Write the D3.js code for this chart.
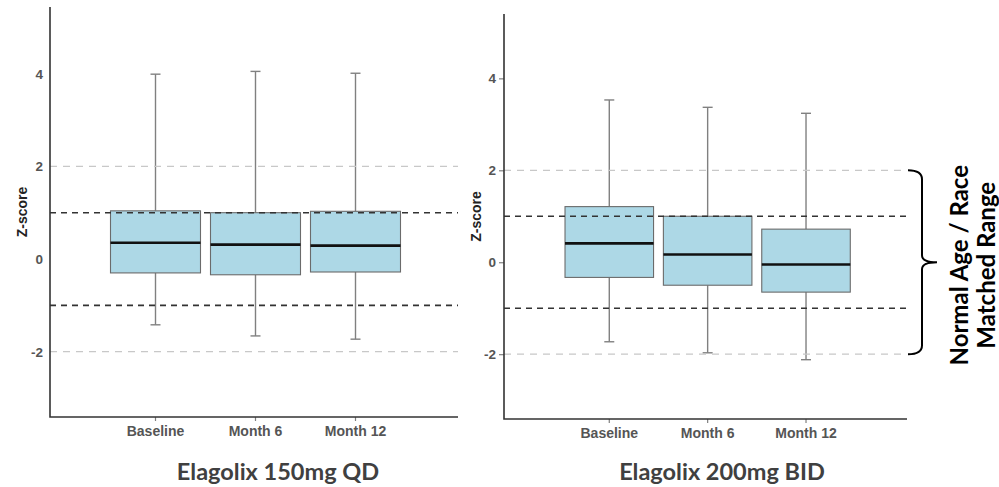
<!DOCTYPE html>
<html>
<head>
<meta charset="utf-8">
<script src="https://cdn.jsdelivr.net/npm/d3@7/dist/d3.min.js"></script>
<style>
  html, body { margin: 0; padding: 0; background: #fff; }
  svg { display: block; }
</style>
</head>
<body>
<svg id="chart" width="999" height="487"></svg>
<script>
// Visit categories shared by both dose groups
const categories = ["Baseline", "Month 6", "Month 12"];

// Elagolix 150mg QD – box-plot summaries (Z-score)
const qdWhiskerLow  = [-1.42, -1.66, -1.73];
const qdQ1          = [-0.30, -0.34, -0.28];
const qdMedian      = [ 0.35,  0.31,  0.29];
const qdQ3          = [ 1.04,  1.00,  1.03];
const qdWhiskerHigh = [ 3.99,  4.05,  4.01];

// Elagolix 200mg BID – box-plot summaries (Z-score)
const bidWhiskerLow  = [-1.73, -1.97, -2.12];
const bidQ1          = [-0.33, -0.50, -0.65];
const bidMedian      = [ 0.41,  0.17, -0.05];
const bidQ3          = [ 1.21,  1.00,  0.72];
const bidWhiskerHigh = [ 3.53,  3.37,  3.24];

// Axis ticks and reference lines
const yTicks = [-2, 0, 2, 4];
const innerRefLines = [-1, 1];   // dark dashed
const outerRefLines = [-2, 2];   // light dashed (normal range)

const yDomainQD  = [-3.41, 5.44];
const yDomainBID = [-3.41, 5.40];

const svg = d3.select("#chart");
const tickFont = "'Liberation Sans', Arial, sans-serif";
const titleFont = "Lato, 'Open Sans', sans-serif";

function rows(lo, q1, med, q3, hi) {
  return categories.map((c, i) => ({ cat: c, lo: lo[i], q1: q1[i], med: med[i], q3: q3[i], hi: hi[i] }));
}

function drawPanel(opt) {
  const g = svg.append("g");
  const y = d3.scaleLinear().domain(opt.yDomain).range([opt.bottom, opt.top]);
  const x = d3.scaleBand().domain(categories).range(opt.bandRange)
    .paddingInner(0.1).paddingOuter(0.05);
  const bw = x.bandwidth();
  const cap = 10;

  // boxes
  const box = g.selectAll("g.box").data(opt.data).join("g").attr("class", "box");
  box.append("line")
    .attr("x1", d => x(d.cat) + bw / 2).attr("x2", d => x(d.cat) + bw / 2)
    .attr("y1", d => y(d.q3)).attr("y2", d => y(d.hi))
    .attr("stroke", "#808080").attr("stroke-width", 1.4);
  box.append("line")
    .attr("x1", d => x(d.cat) + bw / 2).attr("x2", d => x(d.cat) + bw / 2)
    .attr("y1", d => y(d.q1)).attr("y2", d => y(d.lo))
    .attr("stroke", "#808080").attr("stroke-width", 1.4);
  box.append("line")
    .attr("x1", d => x(d.cat) + bw / 2 - cap / 2).attr("x2", d => x(d.cat) + bw / 2 + cap / 2)
    .attr("y1", d => y(d.hi)).attr("y2", d => y(d.hi))
    .attr("stroke", "#808080").attr("stroke-width", 1.4);
  box.append("line")
    .attr("x1", d => x(d.cat) + bw / 2 - cap / 2).attr("x2", d => x(d.cat) + bw / 2 + cap / 2)
    .attr("y1", d => y(d.lo)).attr("y2", d => y(d.lo))
    .attr("stroke", "#808080").attr("stroke-width", 1.4);
  box.append("rect")
    .attr("x", d => x(d.cat)).attr("width", bw)
    .attr("y", d => y(d.q3)).attr("height", d => y(d.q1) - y(d.q3))
    .attr("fill", "#add8e6").attr("stroke", "#6b6b6b").attr("stroke-width", 1.1);
  box.append("line")
    .attr("x1", d => x(d.cat)).attr("x2", d => x(d.cat) + bw)
    .attr("y1", d => y(d.med)).attr("y2", d => y(d.med))
    .attr("stroke", "#111").attr("stroke-width", 2.6);

  // reference lines
  g.selectAll("line.outer").data(outerRefLines).join("line").attr("class", "outer")
    .attr("x1", opt.left).attr("x2", opt.right)
    .attr("y1", d => y(d)).attr("y2", d => y(d))
    .attr("stroke", "#c8c8c8").attr("stroke-width", 1.3).attr("stroke-dasharray", "7,6");
  g.selectAll("line.inner").data(innerRefLines).join("line").attr("class", "inner")
    .attr("x1", opt.left).attr("x2", opt.right)
    .attr("y1", d => y(d)).attr("y2", d => y(d))
    .attr("stroke", "#333").attr("stroke-width", 1.6).attr("stroke-dasharray", "6,5");

  // y axis (plain hyphen-minus labels)
  const ya = g.append("g").attr("transform", `translate(${opt.left},0)`)
    .call(d3.axisLeft(y).tickValues(yTicks).tickSize(opt.yTickSize).tickPadding(opt.yTickPad)
      .tickFormat(d => String(d)));
  ya.select(".domain").remove();
  ya.selectAll(".tick line").attr("stroke", "#808080").attr("stroke-width", 1.2);
  ya.selectAll(".tick text").attr("fill", "#555").attr("font-family", tickFont)
    .attr("font-weight", "bold").attr("font-size", 13.5);

  // x axis
  const xa = g.append("g").attr("transform", `translate(0,${opt.bottom})`)
    .call(d3.axisBottom(x).tickSize(4).tickPadding(5));
  xa.select(".domain").remove();
  xa.selectAll(".tick line").attr("stroke", "#808080").attr("stroke-width", 1.2);
  xa.selectAll(".tick text").attr("fill", "#555").attr("font-family", tickFont)
    .attr("font-weight", "bold").attr("font-size", 14);

  // axis lines
  g.append("path")
    .attr("d", `M${opt.left},${opt.top}V${opt.bottom}H${opt.right}`)
    .attr("fill", "none").attr("stroke", "#333").attr("stroke-width", 1.6);

  // y title
  g.append("text")
    .attr("transform", `translate(${opt.yLabelX},${(opt.top + opt.bottom) / 2}) rotate(-90)`)
    .attr("text-anchor", "middle").attr("dy", "0.35em")
    .attr("font-family", tickFont).attr("font-weight", "bold").attr("font-size", 14)
    .attr("fill", "#222").text("Z-score");

  // panel title
  g.append("text")
    .attr("x", opt.titleX).attr("y", opt.titleY)
    .attr("text-anchor", "middle")
    .attr("font-family", titleFont).attr("font-weight", "bold").attr("font-size", 23.5)
    .attr("fill", "#404040").text(opt.title);

  return y;
}

drawPanel({
  data: rows(qdWhiskerLow, qdQ1, qdMedian, qdQ3, qdWhiskerHigh),
  yDomain: yDomainQD, top: 7, bottom: 417, left: 50, right: 458,
  bandRange: [105.5, 405.5], yTickSize: 0, yTickPad: 7, yLabelX: 22,
  title: "Elagolix 150mg QD", titleX: 278, titleY: 480
});

const yBID = drawPanel({
  data: rows(bidWhiskerLow, bidQ1, bidMedian, bidQ3, bidWhiskerHigh),
  yDomain: yDomainBID, top: 14, bottom: 419, left: 504, right: 907,
  bandRange: [560.1, 855.2], yTickSize: 5, yTickPad: 3, yLabelX: 476,
  title: "Elagolix 200mg BID", titleX: 722, titleY: 480
});

// Brace marking the normal age / race matched range (-2 to 2)
const bTop = yBID(outerRefLines[1]), bBot = yBID(outerRefLines[0]);
const bMid = (bTop + bBot) / 2;
const bx0 = 908, bx1 = 922, bTip = 937;
svg.append("path")
  .attr("d", `M${bx0},${bTop} Q${bx1},${bTop} ${bx1},${bTop + 9} L${bx1},${bMid - 7} Q${bx1},${bMid} ${bTip},${bMid}` +
             ` Q${bx1},${bMid} ${bx1},${bMid + 7} L${bx1},${bBot - 9} Q${bx1},${bBot} ${bx0},${bBot}`)
  .attr("fill", "none").attr("stroke", "#000").attr("stroke-width", 2);

const rangeLabel = ["Normal Age / Race", "Matched Range"];
svg.selectAll("text.range").data(rangeLabel).join("text").attr("class", "range")
  .attr("transform", (d, i) => `translate(${960 + i * 27},${bMid + 3}) rotate(-90)`)
  .attr("text-anchor", "middle").attr("dy", "0.35em")
  .attr("font-family", titleFont).attr("font-weight", "bold").attr("font-size", 24)
  .attr("fill", "#000").text(d => d);
</script>
</body>
</html>
